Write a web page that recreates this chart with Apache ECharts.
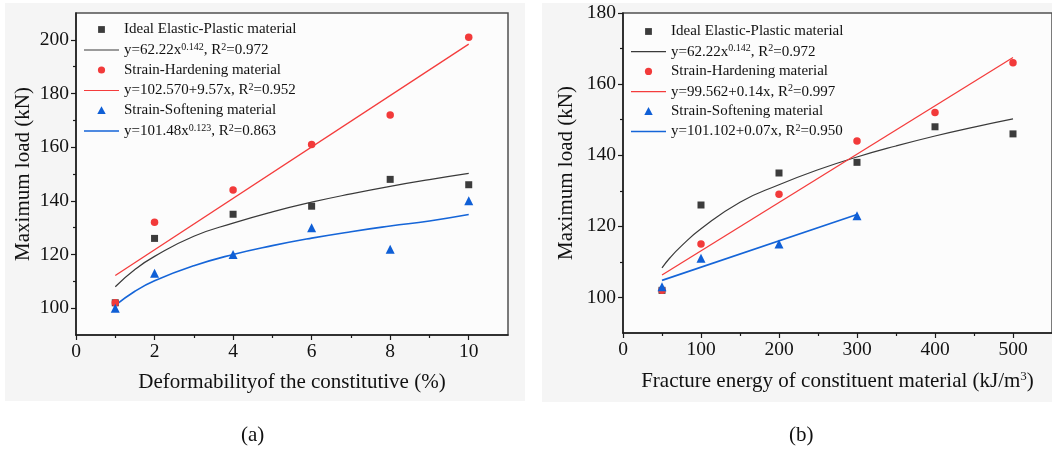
<!DOCTYPE html>
<html>
<head>
<meta charset="utf-8">
<script src="https://cdn.jsdelivr.net/npm/echarts@6/dist/echarts.min.js"></script>
<style>
html,body{margin:0;padding:0;background:#ffffff;}
#chart{width:1052px;height:451px;}
</style>
</head>
<body>
<div id="chart"></div>
<script>
// ---------- Panel (a) data ----------
var xA = [1, 2, 4, 6, 8, 10];
var idealA = [102, 126, 135, 138, 148, 146];
var hardA = [102, 132, 144, 161, 172, 201];
var softA = [100, 113, 120, 130, 122, 140];
var fitCurveXA = [1, 1.5, 2, 3, 4, 5, 6, 7, 8, 9, 10];
var fitIdealA = [108.0, 114.4, 119.3, 126.8, 131.7, 135.9, 139.5, 142.6, 145.4, 147.9, 150.2];
var fitSoftA = [101.0, 106.3, 110.2, 115.8, 120.0, 123.3, 126.1, 128.5, 130.6, 132.5, 134.9];
var fitHardXA = [1, 10];
var fitHardA = [112.2, 198.4];
var xTicksA = [0, 2, 4, 6, 8, 10];
var xMinorA = [1, 3, 5, 7, 9];
var yTicksA = [100, 120, 140, 160, 180, 200];
var yMinorA = [110, 130, 150, 170, 190];

// ---------- Panel (b) data ----------
var xB = [50, 100, 200, 300, 400, 500];
var idealB = [102, 126, 135, 138, 148, 146];
var hardB = [102, 115, 129, 144, 152, 166];
var xSoftB = [50, 100, 200, 300];
var softB = [103, 111, 115, 123];
var fitCurveXB = [50, 60, 75, 100, 150, 200, 250, 300, 350, 400, 450, 500];
var fitIdealB = [108.3, 111.1, 114.5, 119.3, 126.8, 131.7, 135.9, 139.5, 142.6, 145.4, 147.9, 150.2];
var fitHardXB = [50, 500];
var fitHardB = [106.3, 167.5];
var fitSoftXB = [50, 300];
var fitSoftB = [104.8, 123.3];
var xTicksB = [0, 100, 200, 300, 400, 500];
var xMinorB = [50, 150, 250, 350, 450];
var yTicksB = [100, 120, 140, 160, 180];
var yMinorB = [110, 130, 150, 170];

// ---------- legend texts ----------
var legendText = {
  a0: '{n|Ideal Elastic-Plastic material}',
  a1: '{n|y=62.22x}{s|0.142}{n|, R}{s|2}{n|=0.972}',
  a2: '{n|Strain-Hardening material}',
  a3: '{n|y=102.570+9.57x, R}{s|2}{n|=0.952}',
  a4: '{n|Strain-Softening material}',
  a5: '{n|y=101.48x}{s|0.123}{n|, R}{s|2}{n|=0.863}',
  b0: '{n|Ideal Elastic-Plastic material}',
  b1: '{n|y=62.22x}{s|0.142}{n|, R}{s|2}{n|=0.972}',
  b2: '{n|Strain-Hardening material}',
  b3: '{n|y=99.562+0.14x, R}{s|2}{n|=0.997}',
  b4: '{n|Strain-Softening material}',
  b5: '{n|y=101.102+0.07x, R}{s|2}{n|=0.950}'
};

var FONT = '"Liberation Serif","Times New Roman",serif';
var BLACK = '#3c3c3c', RED = '#f23a3a', BLUE = '#0f5fd6';
var AXC = '#1a1a1a';

function zip(xs, ys) { return xs.map(function (x, i) { return [x, ys[i]]; }); }

var richLegend = {
  n: { fontFamily: FONT, fontSize: 15, color: '#111', lineHeight: 16 },
  s: { fontFamily: FONT, fontSize: 10, color: '#111', lineHeight: 10, verticalAlign: 'top' }
};

var ICON_SQ = 'path://M0,0M14,14M3.6,3.6L10.4,3.6L10.4,10.4L3.6,10.4Z';
var ICON_CI = 'path://M0,0M14,14M3.4,7A3.6,3.6,0,1,1,10.6,7A3.6,3.6,0,1,1,3.4,7Z';
var ICON_TR = 'path://M0,0M14,14M7,2.8L11.2,10.6L2.8,10.6Z';
var ICON_LN = 'path://M0,0M35,14M0,6.4L35,6.4L35,7.6L0,7.6Z';
var ICON_LN2 = 'path://M0,0M35,14M0,6.2L35,6.2L35,7.8L0,7.8Z';

function mainX(grid, min, max, ticks, name, gap) {
  return {
    gridIndex: grid, type: 'value', min: min, max: max,
    axisLine: { show: true, onZero: false, lineStyle: { color: AXC, width: 1.5 } },
    axisTick: { show: true, customValues: ticks, length: 5, lineStyle: { color: AXC, width: 1.2 } },
    axisLabel: { customValues: ticks, fontFamily: FONT, fontSize: 19.5, color: '#111', margin: 7 },
    splitLine: { show: false },
    name: name, nameLocation: 'middle', nameGap: gap,
    nameTextStyle: {
      fontFamily: FONT, fontSize: 21, color: '#111',
      rich: {
        n: { fontFamily: FONT, fontSize: 21, color: '#111', lineHeight: 22 },
        s: { fontFamily: FONT, fontSize: 13, color: '#111', lineHeight: 13, verticalAlign: 'top' }
      }
    }
  };
}
function mainY(grid, min, max, ticks, gap) {
  return {
    gridIndex: grid, type: 'value', min: min, max: max,
    axisLine: { show: true, onZero: false, lineStyle: { color: AXC, width: 1.5 } },
    axisTick: { show: true, customValues: ticks, length: 5, lineStyle: { color: AXC, width: 1.2 } },
    axisLabel: { customValues: ticks, fontFamily: FONT, fontSize: 19.5, color: '#111', margin: 7 },
    splitLine: { show: false },
    name: 'Maximum load (kN)', nameLocation: 'middle', nameGap: gap,
    nameTextStyle: { fontFamily: FONT, fontSize: 21, color: '#111' }
  };
}
function minorAxis(grid, min, max, ticks) {
  return {
    gridIndex: grid, type: 'value', min: min, max: max,
    axisLine: { show: false, onZero: false },
    axisTick: { show: true, customValues: ticks, length: 3, lineStyle: { color: AXC, width: 1.2 } },
    axisLabel: { show: false },
    splitLine: { show: false }
  };
}

var gridA = { left: 76, top: 13, width: 432, height: 322 };
var gridB = { left: 623, top: 13, right: -6, height: 320 };

function scatter(name, xi, yi, sym, size, color, data) {
  return {
    name: name, type: 'scatter', xAxisIndex: xi, yAxisIndex: yi,
    symbol: sym, symbolSize: size, itemStyle: { color: color, opacity: 1 },
    data: data, z: 5, silent: true
  };
}
function fit(name, xi, yi, color, width, data) {
  return {
    name: name, type: 'line', xAxisIndex: xi, yAxisIndex: yi,
    smooth: true, symbol: 'none', showSymbol: false,
    lineStyle: { color: color, width: width }, itemStyle: { color: color },
    data: data, z: 3, silent: true
  };
}

var option = {
  animation: false,
  backgroundColor: '#ffffff',
  graphic: [
    { type: 'rect', z: -10, shape: { x: 5, y: 3, width: 520, height: 398 }, style: { fill: '#f5f5f5' }, silent: true },
    { type: 'rect', z: -10, shape: { x: 542, y: 3, width: 520, height: 399 }, style: { fill: '#f5f5f5' }, silent: true }
  ],
  title: [
    { text: '(a)', left: 241, top: 425, padding: 0, textStyle: { fontFamily: FONT, fontSize: 21, fontWeight: 'normal', color: '#111' } },
    { text: '(b)', left: 789, top: 425, padding: 0, textStyle: { fontFamily: FONT, fontSize: 21, fontWeight: 'normal', color: '#111' } }
  ],
  grid: [
    Object.assign({ show: true, backgroundColor: '#fcfcfc', borderColor: '#505050', borderWidth: 1.5 }, gridA),
    Object.assign({ show: true, backgroundColor: '#fcfcfc', borderColor: '#505050', borderWidth: 1.5 }, gridB),
    Object.assign({ show: false }, gridA),
    Object.assign({ show: false }, gridB)
  ],
  xAxis: [
    mainX(0, 0, 11, xTicksA, 'Deformabilityof the constitutive (%)', 37),
    mainX(1, 0, 550, xTicksB, '{n|Fracture energy of constituent material (kJ/m}{s|3}{n|)}', 37),
    minorAxis(2, 0, 11, xMinorA),
    minorAxis(3, 0, 550, xMinorB)
  ],
  yAxis: [
    mainY(0, 90, 210, yTicksA, 42),
    mainY(1, 90, 180, yTicksB, 46),
    minorAxis(2, 90, 210, yMinorA),
    minorAxis(3, 90, 180, yMinorB)
  ],
  legend: [
    {
      orient: 'vertical', left: 84, top: 22, itemWidth: 35, itemHeight: 14, itemGap: 5.0,
      selectedMode: false, padding: 0,
      data: [
        { name: 'a0', icon: ICON_SQ }, { name: 'a1', icon: ICON_LN },
        { name: 'a2', icon: ICON_CI }, { name: 'a3', icon: ICON_LN },
        { name: 'a4', icon: ICON_TR }, { name: 'a5', icon: ICON_LN2 }
      ],
      formatter: function (n) { return legendText[n]; },
      textStyle: { fontFamily: FONT, fontSize: 15, color: '#111', rich: richLegend }
    },
    {
      orient: 'vertical', left: 631, top: 24, itemWidth: 35, itemHeight: 14, itemGap: 4.7,
      selectedMode: false, padding: 0,
      data: [
        { name: 'b0', icon: ICON_SQ }, { name: 'b1', icon: ICON_LN },
        { name: 'b2', icon: ICON_CI }, { name: 'b3', icon: ICON_LN },
        { name: 'b4', icon: ICON_TR }, { name: 'b5', icon: ICON_LN2 }
      ],
      formatter: function (n) { return legendText[n]; },
      textStyle: { fontFamily: FONT, fontSize: 15, color: '#111', rich: richLegend }
    }
  ],
  series: [
    fit('a1', 0, 0, '#3a3a3a', 1.2, zip(fitCurveXA, fitIdealA)),
    fit('a3', 0, 0, '#f43c3c', 1.3, zip(fitHardXA, fitHardA)),
    fit('a5', 0, 0, '#1565d8', 1.6, zip(fitCurveXA, fitSoftA)),
    scatter('a0', 0, 0, 'rect', 7, BLACK, zip(xA, idealA)),
    scatter('a2', 0, 0, 'circle', 7.5, RED, zip(xA, hardA)),
    scatter('a4', 0, 0, 'triangle', 9, BLUE, zip(xA, softA)),

    fit('b1', 1, 1, '#3a3a3a', 1.2, zip(fitCurveXB, fitIdealB)),
    fit('b3', 1, 1, '#f43c3c', 1.3, zip(fitHardXB, fitHardB)),
    fit('b5', 1, 1, '#1565d8', 1.6, zip(fitSoftXB, fitSoftB)),
    scatter('b0', 1, 1, 'rect', 7, BLACK, zip(xB, idealB)),
    scatter('b2', 1, 1, 'circle', 7.5, RED, zip(xB, hardB)),
    scatter('b4', 1, 1, 'triangle', 9, BLUE, zip(xSoftB, softB))
  ]
};

var chart = echarts.init(document.getElementById('chart'), null, { renderer: 'canvas' });
chart.setOption(option);
</script>
</body>
</html>
